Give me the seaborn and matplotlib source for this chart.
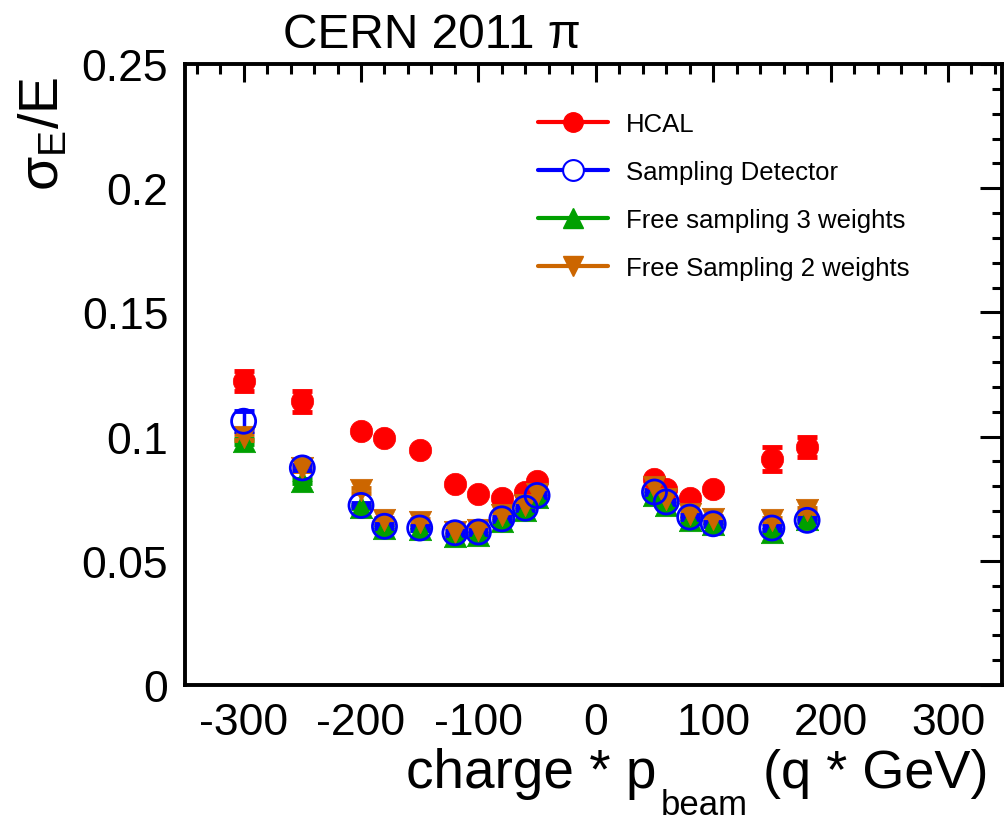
import matplotlib
matplotlib.use("Agg")
import matplotlib.pyplot as plt
from matplotlib.lines import Line2D
from matplotlib.ticker import MultipleLocator, FuncFormatter
import pandas as pd
import seaborn as sns

# Beam momentum times charge (q * GeV)
momentum = [-300, -250, -200, -180, -150, -120, -100, -80, -60, -50,
            50, 60, 80, 100, 150, 180]

# Relative energy resolution sigma_E / E
hcal = [0.1223, 0.1142, 0.1021, 0.0995, 0.0948, 0.0810, 0.0770, 0.0754, 0.0777, 0.0820,
        0.0829, 0.0788, 0.0754, 0.0788, 0.0909, 0.0958]
hcal_err = [0.0040, 0.0042, 0.0012, 0.0010, 0.0010, 0.0010, 0.0009, 0.0009, 0.0009, 0.0009,
            0.0010, 0.0010, 0.0009, 0.0010, 0.0048, 0.0042]

sampling = [0.1062, 0.0874, 0.0723, 0.0639, 0.0632, 0.0613, 0.0616, 0.0669, 0.0712, 0.0763,
            0.0777, 0.0737, 0.0676, 0.0649, 0.0632, 0.0663]
sampling_err = [0.0040, 0.0010, 0.0008, 0.0008, 0.0008, 0.0008, 0.0008, 0.0008, 0.0008, 0.0008,
                0.0008, 0.0008, 0.0008, 0.0008, 0.0008, 0.0008]

free3 = [0.0982, 0.0822, 0.0718, 0.0632, 0.0630, 0.0600, 0.0605, 0.0660, 0.0705, 0.0755,
         0.0765, 0.0725, 0.0665, 0.0650, 0.0617, 0.0669]
free3_err = [0.0010, 0.0008, 0.0007, 0.0007, 0.0007, 0.0007, 0.0007, 0.0007, 0.0007, 0.0007,
             0.0007, 0.0007, 0.0007, 0.0007, 0.0007, 0.0007]

free2 = [0.0997, 0.0873, 0.0784, 0.0663, 0.0657, 0.0618, 0.0626, 0.0683, 0.0723, 0.0770,
         0.0797, 0.0750, 0.0690, 0.0669, 0.0663, 0.0703]
free2_err = [0.0012, 0.0010, 0.0010, 0.0010, 0.0010, 0.0010, 0.0010, 0.0010, 0.0010, 0.0010,
             0.0010, 0.0010, 0.0010, 0.0010, 0.0010, 0.0010]

series_names = ["HCAL", "Sampling Detector", "Free sampling 3 weights", "Free Sampling 2 weights"]

sns.set_theme(style="white")
plt.rcParams["font.family"] = ["Liberation Sans", "DejaVu Sans"]
plt.rcParams["mathtext.default"] = "regular"
plt.rcParams["axes.unicode_minus"] = False
for key in ("text.color", "axes.labelcolor", "xtick.color", "ytick.color", "axes.edgecolor"):
    plt.rcParams[key] = "black"

W, H = 1005, 820
fig = plt.figure(figsize=(W / 100, H / 100), dpi=100)
ax = fig.add_axes([0.184, 0.1634, 0.813, 0.7573])

RED = "#ff0000"
BLUE = "#0000ff"
GREEN = "#00a000"
ORANGE = "#cc6600"

styles = [
    # name, values, errors, colour, marker, filled, zorder
    (series_names[0], hcal, hcal_err, RED, "o", True, 3),
    (series_names[2], free3, free3_err, GREEN, "^", True, 4),
    (series_names[3], free2, free2_err, ORANGE, "v", True, 5),
    (series_names[1], sampling, sampling_err, BLUE, "o", False, 6),
]

for name, vals, errs, col, mk, filled, z in styles:
    df = pd.DataFrame({"p": momentum, "res": vals, "err": errs})
    ax.errorbar(df["p"], df["res"], yerr=df["err"], fmt="none", ecolor=col,
                elinewidth=2.5, capsize=7, capthick=3.5, zorder=2)
    if filled:
        sns.scatterplot(data=df, x="p", y="res", ax=ax, color=col, marker=mk,
                        s=260, edgecolor=col, linewidth=0.5, zorder=z, legend=False)
    else:
        sns.scatterplot(data=df, x="p", y="res", ax=ax, marker=mk, s=300,
                        facecolor="none", edgecolor=col, linewidth=2, zorder=z, legend=False)

ax.set_xlim(-350, 346)
ax.set_ylim(0, 0.25)
ax.xaxis.set_major_locator(MultipleLocator(100))
ax.xaxis.set_minor_locator(MultipleLocator(20))
ax.yaxis.set_major_locator(MultipleLocator(0.05))
ax.yaxis.set_minor_locator(MultipleLocator(0.01))
ax.yaxis.set_major_formatter(FuncFormatter(lambda v, _: f"{v:g}"))

ax.tick_params(which="both", direction="in", top=True, right=True, color="black",
               labelsize=32, width=2.2)
ax.tick_params(which="major", length=13, pad=12)
ax.tick_params(which="minor", length=7)
ax.tick_params(axis="y", which="major", length=16)
for sp in ax.spines.values():
    sp.set_color("black")
    sp.set_linewidth(2.8)

# y axis title, right-aligned to the top of the frame
ax.set_ylabel("σ$_{E}$/E", fontsize=40, loc="top")
ax.yaxis.set_label_coords(-0.140, 0.981)

# x axis title with a dropped subscript
ax.set_xlabel("")
fig.text(406 / W, 1 - 788 / H, "charge * p", fontsize=39.5, ha="left", va="baseline")
fig.text(661 / W, 1 - 815 / H, "beam", fontsize=25, ha="left", va="baseline")
fig.text(988 / W, 1 - 788 / H, "(q * GeV)", fontsize=39, ha="right", va="baseline")

fig.text(0.282, 0.941, "CERN 2011 π", fontsize=34.5, ha="left", va="baseline")

handles = [
    Line2D([0], [0], color=RED, lw=3, marker="o", markersize=14, markerfacecolor=RED),
    Line2D([0], [0], color=BLUE, lw=3, marker="o", markersize=15, markerfacecolor="white",
           markeredgewidth=1.5),
    Line2D([0], [0], color=GREEN, lw=3, marker="^", markersize=14, markerfacecolor=GREEN),
    Line2D([0], [0], color=ORANGE, lw=3, marker="v", markersize=14, markerfacecolor=ORANGE),
]
ax.legend(handles, series_names, loc="upper left", bbox_to_anchor=(0.420, 0.940),
          frameon=False, fontsize=18.5, handlelength=2.7, handletextpad=0.7,
          labelspacing=0.94, borderaxespad=0)

fig.savefig("out.png", dpi=100)
